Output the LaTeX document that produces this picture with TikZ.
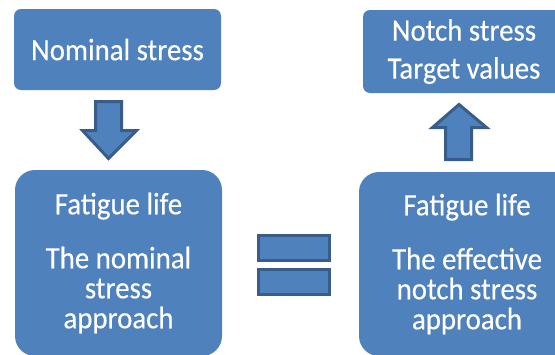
\documentclass[tikz,border=0pt]{standalone}
\usepackage{fontspec}
\setmainfont{Carlito}[FakeStretch=0.93,FakeBold=0.3]
\definecolor{boxblue}{RGB}{79,129,189}
\definecolor{edgeblue}{RGB}{56,93,138}
\tikzset{
  blockbox/.style={fill=boxblue, draw=none, text=white, align=center,
    font=\fontsize{31}{30}\selectfont, inner sep=0pt},
  blockarrow/.style={fill=boxblue, draw=edgeblue, line width=3pt, line join=miter},
  eqbar/.style={fill=boxblue, draw=edgeblue, line width=3pt}
}
\begin{document}
\begin{tikzpicture}[x=1pt,y=-1pt]
\useasboundingbox (0,0) rectangle (555,354);
\clip (0,0) rectangle (555,354);
% boxes
\node[blockbox, rounded corners=7pt, minimum width=207pt, minimum height=81pt] (nom) at (117.5,49.5) {Nominal stress};
\node[blockbox, rounded corners=7pt, minimum width=202pt, minimum height=83pt] (notch) at (464,51.5) {Notch stress\\[8pt]Target values};
\node[blockbox, rounded corners=20pt, minimum width=207pt, minimum height=186pt] (fatL) at (118.5,263) {Fatigue life\\[24pt]The nominal\\stress\\approach};
\node[blockbox, rounded corners=20pt, minimum width=216pt, minimum height=184pt] (fatR) at (467,264) {Fatigue life\\[24pt]The effective\\notch stress\\approach};
% down arrow
\draw[blockarrow] (95.5,101.5) -- (121.5,101.5) -- (121.5,130.5) -- (136.5,130.5)
  -- (108.5,158.5) -- (82.5,130.5) -- (95.5,130.5) -- cycle;
% up arrow
\draw[blockarrow] (445.5,159.5) -- (471.5,159.5) -- (471.5,127.5) -- (486.5,127.5)
  -- (459,104.5) -- (432.5,127.5) -- (445.5,127.5) -- cycle;
% equals sign
\draw[eqbar] (258.5,235.5) rectangle (329.5,260.5);
\draw[eqbar] (258.5,269.5) rectangle (329.5,294.5);
\end{tikzpicture}
\end{document}
